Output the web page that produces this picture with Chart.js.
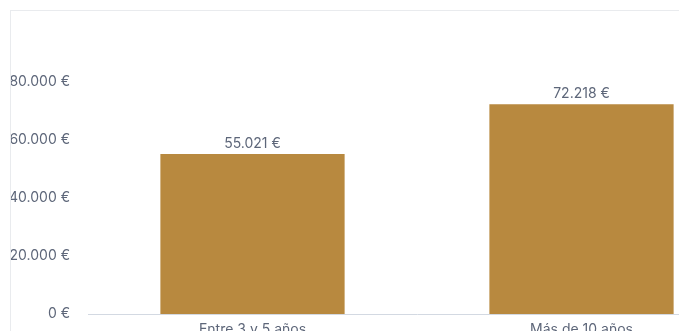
<!DOCTYPE html>
<html>
<head>
<meta charset="utf-8">
<script src="https://cdn.jsdelivr.net/npm/chart.js@4/dist/chart.umd.min.js"></script>
<style>
  html, body { margin: 0; padding: 0; background: #fff; overflow: hidden; }
  #card { position: absolute; left: 10px; top: 10px; width: 780px; height: 360px;
          border-left: 1px solid #e9ebee; border-top: 1px solid #e9ebee; }
  #wrap { position: absolute; left: 0; top: -14px; width: 760px; height: 348px; }
</style>
</head>
<body>
<div id="card"><div id="wrap"><canvas id="c"></canvas></div></div>
<script>
const categories = ["Entre 3 y 5 años", "Más de 10 años"];
const salaries = [55021, 72218];
const yTicks = [0, 20000, 40000, 60000, 80000];

function euro(v) {
  const s = Math.round(v).toString().replace(/\B(?=(\d{3})+(?!\d))/g, '.');
  return s + ' €';
}

const textColor = '#5d6679';
const fontFamily = 'Inter, "Noto Sans", sans-serif';

const valueLabels = {
  id: 'valueLabels',
  afterDatasetsDraw(chart) {
    const ctx = chart.ctx;
    const meta = chart.getDatasetMeta(0);
    ctx.save();
    ctx.font = '14px ' + fontFamily;
    ctx.fillStyle = textColor;
    ctx.textAlign = 'center';
    ctx.textBaseline = 'bottom';
    meta.data.forEach((bar, i) => {
      ctx.fillText(euro(chart.data.datasets[0].data[i]), bar.x, bar.y - 3);
    });
    ctx.restore();
  }
};

new Chart(document.getElementById('c'), {
  type: 'bar',
  data: {
    labels: categories,
    datasets: [{
      data: salaries,
      backgroundColor: '#b8893f',
      borderWidth: 0,
      barPercentage: 0.7,
      categoryPercentage: 0.8
    }]
  },
  options: {
    responsive: true,
    maintainAspectRatio: false,
    animation: false,
    layout: { padding: { top: 9, right: 25, left: 0, bottom: 0 } },
    plugins: { legend: { display: false }, tooltip: { enabled: false } },
    scales: {
      x: {
        grid: { display: false },
        border: { display: true, color: '#d3d9e2', width: 1 },
        ticks: { color: textColor, font: { family: fontFamily, size: 14 }, padding: -1 },
        afterFit(scale) { scale.height = 31; }
      },
      y: {
        min: 0,
        max: 100000,
        grid: { display: false, drawTicks: false },
        border: { display: false },
        afterBuildTicks(scale) { scale.ticks = yTicks.map(v => ({ value: v })); },
        afterFit(scale) { scale.width = 77; },
        ticks: {
          color: textColor,
          font: { family: fontFamily, size: 14 },
          padding: 18,
          callback: v => euro(v)
        }
      }
    }
  },
  plugins: [valueLabels]
});
</script>
</body>
</html>
